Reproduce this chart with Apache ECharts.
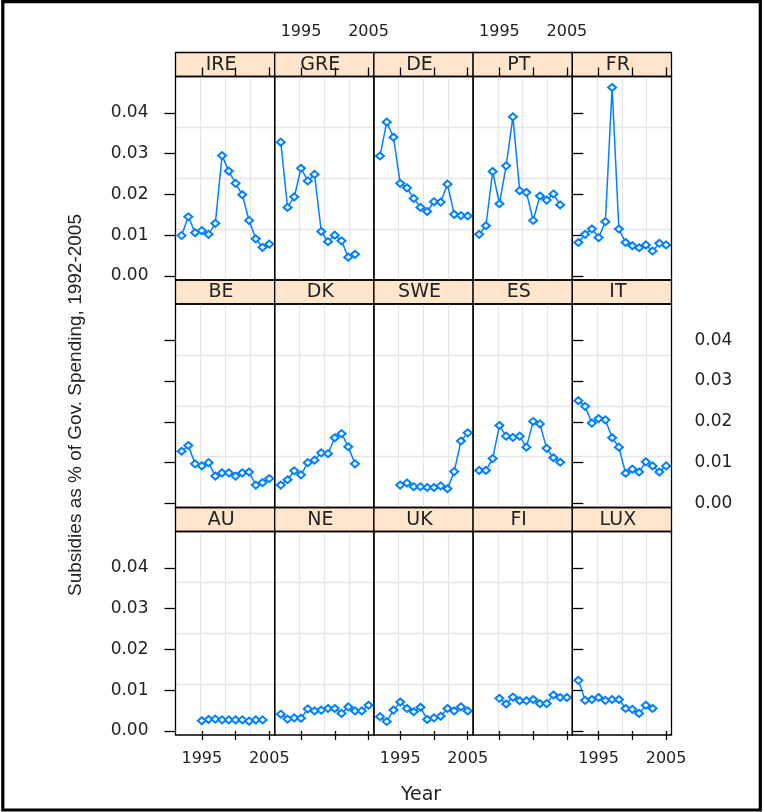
<!DOCTYPE html>
<html>
<head>
<meta charset="utf-8">
<script src="https://cdn.jsdelivr.net/npm/echarts@6/dist/echarts.min.js"></script>
<style>
html, body { margin: 0; padding: 0; background: #fff; }
#main { width: 765px; height: 812px; }
</style>
</head>
<body>
<div id="main"></div>
<script>
// panels, row by row from top left
const countries = ['IRE', 'GRE', 'DE', 'PT', 'FR', 'BE', 'DK', 'SWE', 'ES', 'IT', 'AU', 'NE', 'UK', 'FI', 'LUX'];
const firstYear = [1992, 1992, 1992, 1992, 1992, 1992, 1992, 1995, 1992, 1992, 1995, 1992, 1992, 1995, 1992];

// subsidies as share of government spending, one value per year
const IRE = [0.0099, 0.0145, 0.0106, 0.0111, 0.0102, 0.0129, 0.0295, 0.0257, 0.0227, 0.0199, 0.0136, 0.0091, 0.0070, 0.0078];
const GRE = [0.0328, 0.0168, 0.0194, 0.0264, 0.0233, 0.0249, 0.0109, 0.0084, 0.0100, 0.0086, 0.0046, 0.0053];
const DE = [0.0294, 0.0377, 0.0340, 0.0227, 0.0216, 0.0190, 0.0168, 0.0158, 0.0182, 0.0181, 0.0225, 0.0151, 0.0148, 0.0147];
const PT = [0.0102, 0.0123, 0.0256, 0.0177, 0.0270, 0.0390, 0.0209, 0.0205, 0.0136, 0.0196, 0.0186, 0.0201, 0.0174];
const FR = [0.0082, 0.0102, 0.0115, 0.0094, 0.0133, 0.0462, 0.0115, 0.0082, 0.0074, 0.0069, 0.0076, 0.0061, 0.0080, 0.0076];
const BE = [0.0128, 0.0142, 0.0097, 0.0092, 0.0100, 0.0067, 0.0075, 0.0075, 0.0067, 0.0075, 0.0077, 0.0045, 0.0051, 0.0061];
const DK = [0.0045, 0.0058, 0.0080, 0.0070, 0.0100, 0.0106, 0.0124, 0.0122, 0.0161, 0.0171, 0.0139, 0.0097];
const SWE = [0.0045, 0.0050, 0.0041, 0.0041, 0.0039, 0.0039, 0.0043, 0.0036, 0.0078, 0.0153, 0.0173];
const ES = [0.0081, 0.0081, 0.0110, 0.0191, 0.0165, 0.0162, 0.0165, 0.0138, 0.0201, 0.0195, 0.0135, 0.0112, 0.0101];
const IT = [0.0252, 0.0238, 0.0197, 0.0208, 0.0205, 0.0161, 0.0138, 0.0074, 0.0084, 0.0077, 0.0102, 0.0092, 0.0077, 0.0092];
const AU = [0.0025, 0.0028, 0.0029, 0.0027, 0.0027, 0.0027, 0.0027, 0.0024, 0.0027, 0.0027];
const NE = [0.0041, 0.0029, 0.0032, 0.0031, 0.0054, 0.0049, 0.0051, 0.0055, 0.0055, 0.0043, 0.0059, 0.0049, 0.0049, 0.0063];
const UK = [0.0035, 0.0023, 0.0051, 0.0071, 0.0055, 0.0047, 0.0058, 0.0028, 0.0032, 0.0036, 0.0055, 0.0049, 0.0059, 0.0049];
const FI = [0.0080, 0.0066, 0.0083, 0.0074, 0.0074, 0.0077, 0.0067, 0.0067, 0.0088, 0.0082, 0.0082];
const LUX = [0.0124, 0.0075, 0.0077, 0.0082, 0.0075, 0.0077, 0.0077, 0.0055, 0.0053, 0.0043, 0.0063, 0.0055];
const subsidies = [IRE, GRE, DE, PT, FR, BE, DK, SWE, ES, IT, AU, NE, UK, FI, LUX];

const yearTicks = [1995, 2000, 2005];
const yearLabels = [1995, 2005];
const shareTicks = [0, 0.01, 0.02, 0.03, 0.04];

// layout of the 5 x 3 panels
const panelLeft = 175.5, panelW = 99.2;
const stripTop = [52.5, 280, 507.5];
const stripH = 24, plotH = 203.5;
const xMin = 1991.1, xMax = 2005.8;
const yMin = -0.001, yMax = 0.0489;

const textColor = '#222';
const font = 'DejaVu Sans';

const grid = [];
const xAxis = [];
const yAxis = [];
const series = [];
const graphic = [];

function yearText(v) {
    return String(v);
}

for (let i = 0; i < countries.length; i++) {
    const r = Math.floor(i / 5);
    const c = i % 5;
    const left = panelLeft + c * panelW;

    // plot area
    const g = grid.length;
    grid.push({
        left: left, top: stripTop[r] + stripH, width: panelW, height: plotH,
        show: true, borderColor: '#000', borderWidth: 1.3, z: 5,
        outerBoundsMode: 'none'
    });
    const xi = xAxis.length;
    xAxis.push({
        gridIndex: g, type: 'value', min: xMin, max: xMax, position: 'bottom',
        axisLine: { show: false },
        splitLine: { show: false },
        axisTick: { show: r === 2, length: 9, customValues: yearTicks, lineStyle: { color: '#000', width: 1.3 } },
        axisLabel: {
            show: r === 2 && c % 2 === 0, customValues: yearLabels, margin: 16,
            fontSize: 16, fontFamily: font, color: textColor, formatter: yearText
        }
    });
    // light reference grid splitting the panel in quarters
    xAxis.push({
        gridIndex: g, type: 'value', min: 0, max: 4, interval: 1,
        axisLine: { show: false }, axisTick: { show: false }, axisLabel: { show: false },
        splitLine: { show: true, showMinLine: false, showMaxLine: false, lineStyle: { color: '#e6e6e6', width: 1.3 } }
    });
    const yi = yAxis.length;
    const showYLab = (c === 0 && r !== 1) || (c === 4 && r === 1);
    yAxis.push({
        gridIndex: g, type: 'value', min: yMin, max: yMax,
        position: c === 4 ? 'right' : 'left',
        axisLine: { show: false },
        splitLine: { show: false },
        axisTick: { show: c === 0 || c === 4, length: 11, customValues: shareTicks, lineStyle: { color: '#000', width: 1.3 } },
        axisLabel: {
            show: showYLab, customValues: shareTicks, margin: c === 4 ? 23 : 27,
            fontSize: 17, fontFamily: font, color: textColor,
            formatter: function (v) { return v.toFixed(2); }
        }
    });
    yAxis.push({
        gridIndex: g, type: 'value', min: 0, max: 4, interval: 1,
        axisLine: { show: false }, axisTick: { show: false }, axisLabel: { show: false },
        splitLine: { show: true, showMinLine: false, showMaxLine: false, lineStyle: { color: '#e6e6e6', width: 1.3 } }
    });

    // strip with the country name
    const s = grid.length;
    grid.push({
        left: left, top: stripTop[r], width: panelW, height: stripH,
        show: true, backgroundColor: '#ffe5cc', borderColor: '#000', borderWidth: 1.3,
        outerBoundsMode: 'none'
    });
    xAxis.push({
        gridIndex: s, type: 'value', min: xMin, max: xMax, position: 'top',
        axisLine: { show: false },
        splitLine: { show: false },
        axisTick: { show: r === 0, length: 9, customValues: yearTicks, lineStyle: { color: '#000', width: 1.3 } },
        axisLabel: {
            show: r === 0 && c % 2 === 1, customValues: yearLabels, margin: 13,
            fontSize: 16, fontFamily: font, color: textColor, formatter: yearText
        }
    });
    yAxis.push({ gridIndex: s, type: 'value', show: false });
    graphic.push({
        type: 'text', x: left + panelW / 2 - 4, y: stripTop[r] + stripH / 2 + 0.5,
        style: {
            text: countries[i], fontSize: 19, fontFamily: font, fill: textColor,
            align: 'center', verticalAlign: 'middle', textAlign: 'center', textVerticalAlign: 'middle'
        }
    });

    const data = subsidies[i].map(function (v, k) { return [firstYear[i] + k, v]; });
    series.push({
        type: 'line', name: countries[i], xAxisIndex: xi, yAxisIndex: yi, data: data,
        symbol: 'emptyDiamond', symbolSize: [8, 7],
        lineStyle: { color: '#0080ff', width: 1.5 },
        itemStyle: { color: '#0080ff', borderWidth: 1.2 },
        z: 3
    });
}

graphic.push({
    type: 'text', x: 76, y: 405, rotation: Math.PI / 2,
    style: {
        text: 'Subsidies as % of Gov. Spending, 1992-2005', fontSize: 19, fontFamily: 'Liberation Sans', fill: textColor,
        align: 'center', verticalAlign: 'middle', textAlign: 'center', textVerticalAlign: 'middle'
    }
});
graphic.push({
    type: 'text', x: 421, y: 795,
    style: {
        text: 'Year', fontSize: 19, fontFamily: font, fill: textColor,
        align: 'center', verticalAlign: 'middle', textAlign: 'center', textVerticalAlign: 'middle'
    }
});
// outer frame
graphic.push({
    type: 'rect', shape: { x: 2.8, y: 1.7, width: 757.5, height: 808.3 },
    style: { fill: 'none', stroke: '#000', lineWidth: 3.2 }
});

const chart = echarts.init(document.getElementById('main'));
chart.setOption({
    animation: false,
    backgroundColor: '#fff',
    grid: grid,
    xAxis: xAxis,
    yAxis: yAxis,
    series: series,
    graphic: graphic
});
</script>
</body>
</html>
